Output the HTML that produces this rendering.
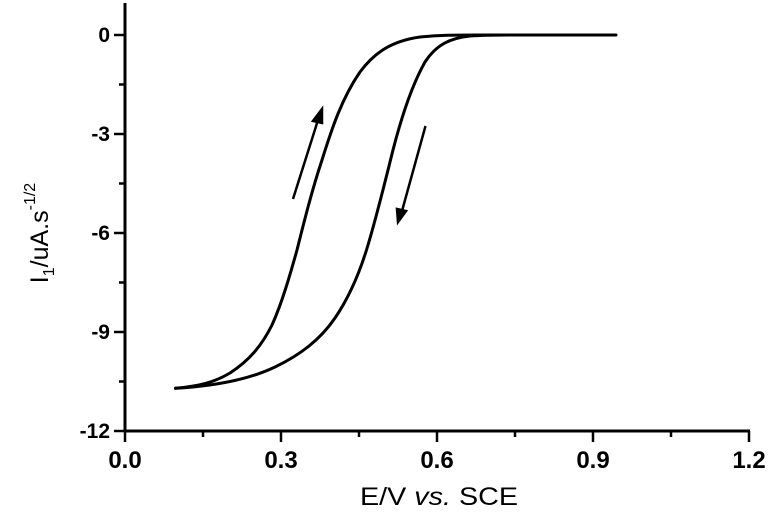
<!DOCTYPE html>
<html><head><meta charset="utf-8"><style>
html,body{margin:0;padding:0;background:#fff;}
svg{display:block;font-family:"Liberation Sans",Arial,sans-serif;}
</style></head><body>
<svg width="776" height="518" viewBox="0 0 776 518">
<g stroke="#000" stroke-width="3" fill="none">
<line x1="125" y1="3" x2="125" y2="432"/>
<line x1="124" y1="431" x2="750" y2="431"/>
</g>
<g stroke="#000" stroke-width="2.5">
<line x1="125" y1="431" x2="125" y2="442"/>
<line x1="281" y1="431" x2="281" y2="442"/>
<line x1="437" y1="431" x2="437" y2="442"/>
<line x1="593" y1="431" x2="593" y2="442"/>
<line x1="749" y1="431" x2="749" y2="442"/>
<line x1="203" y1="431" x2="203" y2="437"/>
<line x1="359" y1="431" x2="359" y2="437"/>
<line x1="515" y1="431" x2="515" y2="437"/>
<line x1="671" y1="431" x2="671" y2="437"/>
<line x1="114" y1="35" x2="125" y2="35"/>
<line x1="114" y1="134" x2="125" y2="134"/>
<line x1="114" y1="233" x2="125" y2="233"/>
<line x1="114" y1="332" x2="125" y2="332"/>
<line x1="114" y1="431" x2="125" y2="431"/>
<line x1="119" y1="84.5" x2="125" y2="84.5"/>
<line x1="119" y1="183.5" x2="125" y2="183.5"/>
<line x1="119" y1="282.5" x2="125" y2="282.5"/>
<line x1="119" y1="381.5" x2="125" y2="381.5"/>
</g>
<g font-size="21" font-weight="bold" fill="#000" text-anchor="end">
<text x="110" y="42">0</text>
<text x="110" y="141">-3</text>
<text x="110" y="240">-6</text>
<text x="110" y="339">-9</text>
<text x="110" y="438">-12</text>
</g>
<g font-size="24" font-weight="bold" fill="#000" text-anchor="middle">
<text x="125" y="468">0.0</text>
<text x="281" y="468">0.3</text>
<text x="437" y="468">0.6</text>
<text x="593" y="468">0.9</text>
<text x="749" y="468">1.2</text>
</g>
<text x="439" y="505" font-size="25" text-anchor="middle" textLength="158" lengthAdjust="spacingAndGlyphs">E/V <tspan font-style="italic">vs.</tspan> SCE</text>
<text transform="translate(48,233) rotate(-90)" font-size="25" text-anchor="middle">I<tspan font-size="16" dy="6">1</tspan><tspan dy="-6">/uA.s</tspan><tspan font-size="16" dy="-13">-1/2</tspan></text>
<g stroke="#000" stroke-width="3" fill="none" stroke-linejoin="round" stroke-linecap="round">
<path d="M175.5,388.3 C200,386 215,382 230,373 C250,360 262,345 272,325 C282,303 290,275 297,250 C304,222 312,190 322,160 C332,128 342,98 360,72 C375,52 392,41 420,37 C440,35 455,35 475,35 L616,35"/>
<path d="M175.5,388.3 C215,386 250,379 275,367 C300,355 320,340 335,318 C350,296 360,272 368,245 C377,215 385,182 393,150 C402,115 412,85 425,62 C436,45 450,38 470,36 C485,35 495,35 510,35"/>
</g>
<g stroke="#000" stroke-width="2.5" fill="#000">
<line x1="293" y1="199" x2="318" y2="120"/>
<polygon points="322,109 313,121 322,123"/>
<line x1="425.5" y1="126" x2="402" y2="211"/>
<polygon points="398,222 397,209 406,211"/>
</g>
</svg>
</body></html>
